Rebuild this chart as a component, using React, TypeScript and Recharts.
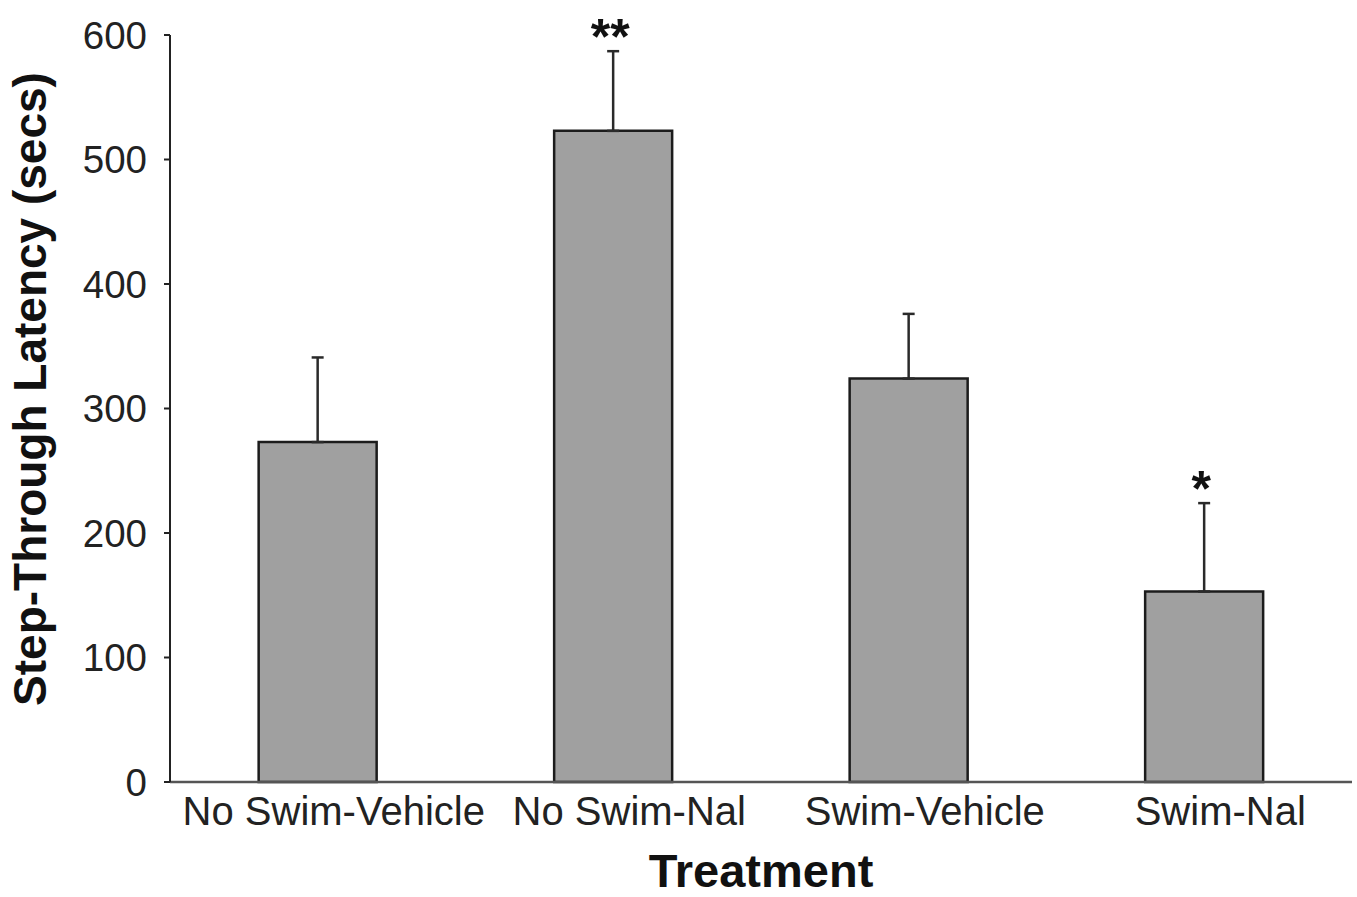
import React from "react";
import {
  ComposedChart,
  Bar,
  Line,
  XAxis,
  YAxis,
  ErrorBar,
  LabelList,
  Label,
} from "recharts";

const treatments = ["No Swim-Vehicle", "No Swim-Nal", "Swim-Vehicle", "Swim-Nal"];
const latencyMeans = [273, 523, 324, 153];
const latencySems = [68, 64, 52, 71];
const significance = ["", "**", "", "*"];
const yTicks = [0, 100, 200, 300, 400, 500, 600];

const data = treatments.map((name, i) => ({
  name,
  mean: latencyMeans[i],
  err: [0, latencySems[i]],
  errTop: latencyMeans[i] + latencySems[i],
  sig: significance[i],
}));

const FONT = "'Liberation Sans', Arial, Helvetica, sans-serif";

// asterisks sit just above the error bar caps
const StarLabel = (props: any) => {
  const { x, y, value } = props;
  if (!value) return null;
  return (
    <text
      x={x - 3}
      y={y + 3}
      textAnchor="middle"
      fontFamily={FONT}
      fontWeight="bold"
      fontSize={50}
      fill="#111"
    >
      {value}
    </text>
  );
};

// category labels in the original sit a little right of the bar centres
const CategoryTick = (props: any) => {
  const { x, y, payload } = props;
  return (
    <text
      x={x + 16}
      y={y + 28}
      textAnchor="middle"
      fontFamily={FONT}
      fontSize={40}
      fill="#222"
    >
      {payload.value}
    </text>
  );
};

const YTitle = () => (
  <text
    x={46}
    y={389}
    transform="rotate(-90 46 389)"
    textAnchor="middle"
    fontFamily={FONT}
    fontWeight="bold"
    fontSize={46}
    fill="#111"
  >
    Step-Through Latency (secs)
  </text>
);

const App = () => {
  return (
    <>
      <style>{"body{margin:0}"}</style>
      <ComposedChart
        width={1357}
        height={897}
        data={data}
        margin={{ top: 35, right: 5, left: 0, bottom: 0 }}
        barCategoryGap="30%"
      >
        <XAxis
          dataKey="name"
          height={115}
          axisLine={{ stroke: "#555", strokeWidth: 2.5 }}
          tickLine={false}
          tickSize={0}
          tickMargin={15}
          tick={<CategoryTick />}
          interval={0}
        >
          <Label
            value="Treatment"
            position="insideBottom"
            offset={10}
            style={{ fontFamily: FONT, fontWeight: "bold", fontSize: 47, fill: "#111" }}
          />
        </XAxis>
        <YAxis
          width={170}
          domain={[0, 600]}
          ticks={yTicks}
          axisLine={{ stroke: "#222", strokeWidth: 2 }}
          tickLine={{ stroke: "#222", strokeWidth: 2 }}
          tickSize={6}
          tickMargin={17}
          tick={{ fontFamily: FONT, fontSize: 38.5, fill: "#222" }}
          label={<YTitle />}
        />
        <Bar
          dataKey="mean"
          fill="#a0a0a0"
          stroke="#1c1c1c"
          strokeWidth={2.5}
          isAnimationActive={false}
        >
          <ErrorBar
            dataKey="err"
            direction="y"
            width={6}
            stroke="#2a2a2a"
            strokeWidth={2.5}
            isAnimationActive={false}
          />
        </Bar>
        <Line
          dataKey="errTop"
          stroke="none"
          dot={false}
          activeDot={false}
          isAnimationActive={false}
        >
          <LabelList dataKey="sig" content={<StarLabel />} />
        </Line>
      </ComposedChart>
    </>
  );
};

export default App;
